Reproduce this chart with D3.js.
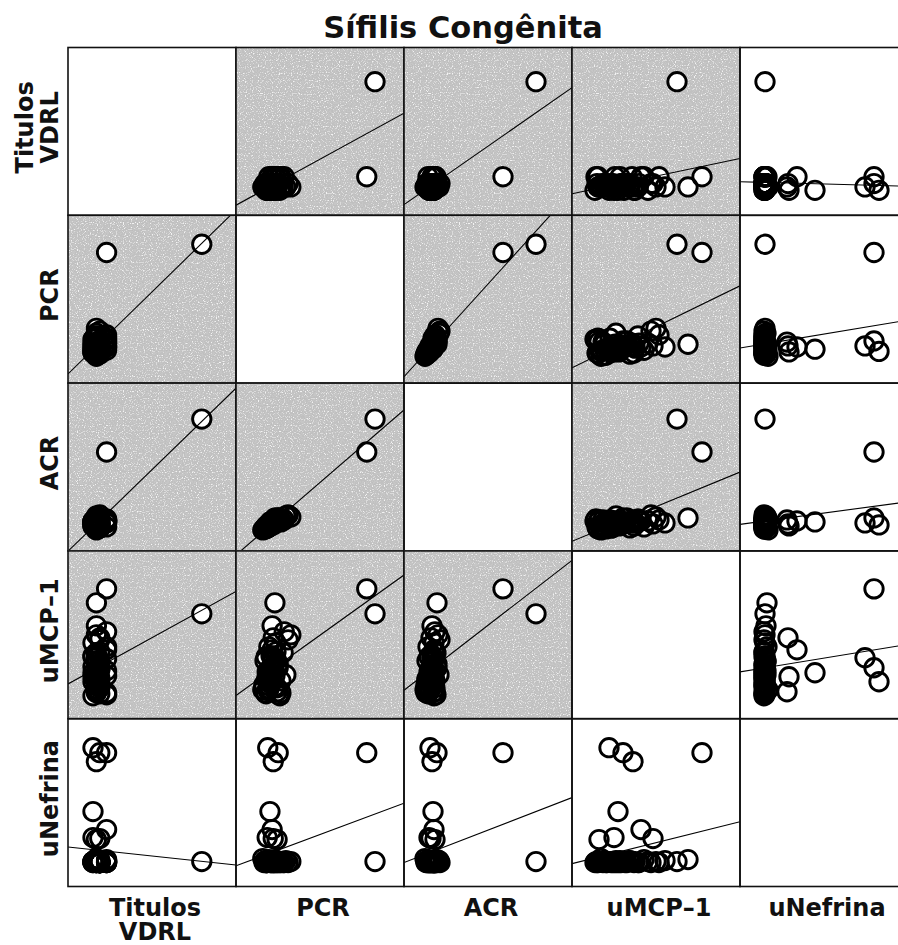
<!DOCTYPE html>
<html>
<head>
<meta charset="utf-8">
<script src="https://cdn.jsdelivr.net/npm/d3@7"></script>
<style>
body { margin: 0; background: #fff; }
text { font-family: "DejaVu Sans", "Open Sans", sans-serif; font-weight: 700; fill: #111; }
</style>
</head>
<body>
<svg id="chart" width="898" height="945"></svg>
<script>
// variable names (matrix order)
var variables = [["Titulos", "VDRL"], ["PCR"], ["ACR"], ["uMCP\u20131"], ["uNefrina"]];

// one value per child, same order in every array
var vdrl = [32, 4, 0, 2, 1, 0, 4, 2, 0, 1, 1, 1, 4, 4,
            2, 1, 1, 1, 2, 1, 1, 0, 2, 2, 0, 1, 4, 0, 2, 1, 1, 0, 2, 1, 0, 2, 4, 1,
            2, 1, 4, 2, 2, 1, 2, 4, 1, 2, 1, 2, 4, 1];
var pcr = [2.20, 2.05, 0.25, 0.44, 0.35, 0.29, 0.33, 0.35, 0.24, 0.42, 0.38, 0.33, 0.40, 0.49,
           0.22, 0.27, 0.18, 0.49, 0.33, 0.58, 0.24, 0.36, 0.44, 0.20, 0.31, 0.53, 0.27, 0.40,
           0.62, 0.16, 0.29, 0.47, 0.35, 0.67, 0.22, 0.38, 0.55, 0.25,
           0.31, 0.26, 0.38, 0.29, 0.42, 0.34, 0.23, 0.45, 0.30, 0.36, 0.27, 0.40, 0.33, 0.21];
var acr = [232, 166, 20, 34, 24, 26, 28, 22, 18, 30, 34, 24, 28, 26,
           16, 20, 12, 30, 22, 38, 18, 26, 34, 14, 24, 32, 16, 28, 40, 10, 22, 28, 20, 36, 18, 24, 30, 14,
           24, 18, 28, 20, 30, 26, 14, 32, 22, 26, 16, 28, 24, 12];
var umcp = [900, 1150, 220, 360, 460, 310, 540, 660, 270, 120, 1010, 780, 450, 110,
            100, 150, 190, 230, 260, 290, 320, 370, 400, 430, 480, 510, 570, 610, 640, 140, 210, 80,
            340, 690, 470, 170, 720, 250,
            200, 130, 280, 350, 160, 420, 240, 90, 300, 380, 180, 520, 330, 110];
var unef = [0.14, 2.32, 2.42, 2.32, 2.14, 1.14, 0.78, 0.60, 0.62, 0.58, 0.18, 0.16, 0.14, 0.12,
            0.12, 0.14, 0.12, 0.14, 0.12, 0.16, 0.12, 0.14, 0.12, 0.16, 0.14, 0.12, 0.18, 0.14,
            0.12, 0.20, 0.14, 0.12, 0.12, 0.14, 0.12, 0.16, 0.12, 0.14,
            0.12, 0.14, 0.12, 0.14, 0.12, 0.16, 0.12, 0.14, 0.12, 0.12, 0.14, 0.12, 0.16, 0.14];

// axis extents used by each variable
var domains = [[-7.35, 42.06], [-0.327, 2.727], [-32, 304], [-150, 1530], [-0.36, 3.0]];

// cells with shaded background [row, col]
var shaded = [[0, 1], [0, 2], [0, 3], [1, 0], [1, 2], [1, 3], [2, 0], [2, 1], [2, 3], [3, 0], [3, 1], [3, 2]];

var columns = [vdrl, pcr, acr, umcp, unef];
var n = columns.length;

var svg = d3.select("#chart");
var gridLeft = 68, gridTop = 47.5, cellW = 168, cellH = 167.8;

var defs = svg.append("defs");
var filt = defs.append("filter")
    .attr("id", "speckle")
    .attr("x", 0).attr("y", 0).attr("width", 1).attr("height", 1)
    .attr("color-interpolation-filters", "sRGB");
filt.append("feTurbulence")
    .attr("type", "fractalNoise")
    .attr("baseFrequency", 0.85)
    .attr("numOctaves", 1)
    .attr("seed", 7);
filt.append("feColorMatrix")
    .attr("type", "matrix")
    .attr("values", "1 0 0 0 0  1 0 0 0 0  1 0 0 0 0  0 0 0 0 1");
var ct = filt.append("feComponentTransfer");
["feFuncR", "feFuncG", "feFuncB"].forEach(function (f) {
    ct.append(f).attr("type", "discrete")
        .attr("tableValues", "0.73 0.73 0.74 0.75 0.76 0.78 0.86 0.95 0.97 0.97");
});
ct.append("feFuncA").attr("type", "linear").attr("slope", 0).attr("intercept", 1);

function isShaded(i, j) {
    return shaded.some(function (s) { return s[0] == i && s[1] == j; });
}

// least squares y on x
function fit(xs, ys) {
    var mx = d3.mean(xs), my = d3.mean(ys);
    var sxy = 0, sxx = 0;
    for (var k = 0; k < xs.length; k++) {
        sxy += (xs[k] - mx) * (ys[k] - my);
        sxx += (xs[k] - mx) * (xs[k] - mx);
    }
    var b = sxy / sxx;
    return [my - b * mx, b];
}

for (var i = 0; i < n; i++) {
    for (var j = 0; j < n; j++) {
        var g = svg.append("g")
            .attr("transform", "translate(" + (gridLeft + j * cellW) + "," + (gridTop + i * cellH) + ")");

        if (isShaded(i, j)) {
            g.append("rect")
                .attr("width", cellW)
                .attr("height", cellH)
                .attr("fill", "#c4c4c4")
                .attr("filter", "url(#speckle)");
        }

        if (i != j) {
            var cid = "clip" + i + "_" + j;
            defs.append("clipPath").attr("id", cid)
                .append("rect").attr("width", cellW).attr("height", cellH);
            var inner = g.append("g").attr("clip-path", "url(#" + cid + ")");

            var x = d3.scaleLinear().domain(domains[j]).range([0, cellW]);
            var y = d3.scaleLinear().domain(domains[i]).range([cellH, 0]);
            var xs = columns[j], ys = columns[i];
            var pts = xs.map(function (v, k) { return [v, ys[k]]; });

            // fills first, then rings on top
            inner.selectAll(".dotfill")
                .data(pts)
                .enter().append("circle")
                .attr("class", "dotfill")
                .attr("cx", function (d) { return x(d[0]); })
                .attr("cy", function (d) { return y(d[1]); })
                .attr("r", 9.2)
                .attr("fill", "#fff");
            inner.selectAll(".dotring")
                .data(pts)
                .enter().append("circle")
                .attr("class", "dotring")
                .attr("cx", function (d) { return x(d[0]); })
                .attr("cy", function (d) { return y(d[1]); })
                .attr("r", 9.2)
                .attr("fill", "none")
                .attr("stroke", "#000")
                .attr("stroke-width", 2.9);

            var ab = fit(xs, ys);
            var xd = x.domain();
            inner.append("line")
                .attr("x1", x(xd[0]))
                .attr("y1", y(ab[0] + ab[1] * xd[0]))
                .attr("x2", x(xd[1]))
                .attr("y2", y(ab[0] + ab[1] * xd[1]))
                .attr("stroke", "#000")
                .attr("stroke-width", 1.1);
        }

        g.append("rect")
            .attr("width", cellW)
            .attr("height", cellH)
            .attr("fill", "none")
            .attr("stroke", "#111")
            .attr("stroke-width", 1.6);
    }
}

svg.append("text")
    .attr("x", 463)
    .attr("y", 38)
    .attr("text-anchor", "middle")
    .attr("font-size", 30.5)
    .text("Sífilis Congênita");

// bottom labels
variables.forEach(function (lines, j) {
    var cx = gridLeft + j * cellW + cellW / 2 + 3;
    lines.forEach(function (t, k) {
        svg.append("text")
            .attr("x", cx)
            .attr("y", 916 + k * 24)
            .attr("text-anchor", "middle")
            .attr("font-size", 24)
            .text(t);
    });
});

// side labels
variables.forEach(function (lines, i) {
    var cy = gridTop + i * cellH + cellH / 2 - 4;
    lines.forEach(function (t, k) {
        var bx = 58 - (lines.length - 1 - k) * 25;
        svg.append("text")
            .attr("transform", "translate(" + bx + "," + cy + ") rotate(-90)")
            .attr("text-anchor", "middle")
            .attr("font-size", 24)
            .text(t);
    });
});
</script>
</body>
</html>
